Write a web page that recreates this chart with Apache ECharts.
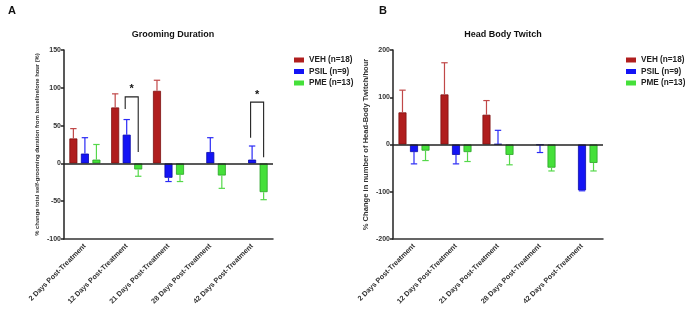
<!DOCTYPE html>
<html>
<head>
<meta charset="utf-8">
<script src="https://cdn.jsdelivr.net/npm/echarts@6/dist/echarts.min.js"></script>
<style>
  html, body { margin: 0; padding: 0; background: #fff; }
  #chart { width: 685px; height: 310px; }
</style>
</head>
<body>
<div id="chart"></div>
<script>
const categories = ['2 Days Post-Treatment', '12 Days Post-Treatment', '21 Days Post-Treatment', '28 Days Post-Treatment', '42 Days Post-Treatment']
const groups = ['VEH (n=18)', 'PSIL (n=9)', 'PME (n=13)']

// A - grooming duration (% change), mean and SEM
const groomVEH = [33, 74, 96, null, null]
const groomVEHErr = [13, 18, 14, null, null]
const groomPSIL = [13, 38, -19, 15, 5]
const groomPSILErr = [21, 20, 5, 19, 18]
const groomPME = [5, -8, -15, -16, -38]
const groomPMEErr = [20, 9, 9, 17, 10]

// B - head body twitch (% change)
const twitchVEH = [68, 106, 63, null, null]
const twitchVEHErr = [47, 67, 30, null, null]
const twitchPSIL = [-16, -22, 1, -1, -97]
const twitchPSILErr = [25, 19, 29, 16, 1]
const twitchPME = [-13, -16, -22, -49, -39]
const twitchPMEErr = [21, 20, 21, 7, 17]

// significance brackets in panel A (category, top, left leg end, right leg end)
const sigCats = [1, 4]
const sigTop = [88, 81]
const sigLeft = [72, 34]
const sigRight = [15, 8]

const groomTicks = { min: -100, max: 150, interval: 50 }
const twitchTicks = { min: -200, max: 200, interval: 100 }

const colors = ['#b01e1e', '#1414f5', '#45e03a']
const borders = ['#7d1212', '#0a0aa8', '#2aa226']
const errColors = ['#c04848', '#2a2af5', '#55d84a']

const barW = 8
const barGapRatio = 0.44
const offsets = [-1, 0, 1].map(k => k * barW * (1 + barGapRatio))

const font = 'Liberation Sans, Arial, sans-serif'

const chart = echarts.init(document.getElementById('chart'))

function barSeries(name, data, i, gi) {
    const s = {
        name: name,
        type: 'bar',
        xAxisIndex: gi,
        yAxisIndex: gi,
        data: data,
        barWidth: barW,
        barGap: (barGapRatio * 100) + '%',
        itemStyle: { color: colors[i], borderColor: borders[i], borderWidth: 0.8 },
        z: 2
    }
    if (i === 0) {
        s.markLine = {
            silent: true,
            symbol: 'none',
            label: { show: false },
            lineStyle: { color: '#222', width: 1.6, type: 'solid' },
            data: [{ yAxis: 0 }]
        }
    }
    return s
}

function errSeries(name, data, err, i, gi) {
    return {
        name: name,
        type: 'custom',
        xAxisIndex: gi,
        yAxisIndex: gi,
        data: data.map((v, k) => [k, v, err[k]]),
        encode: { x: 0, y: 1 },
        z: 3,
        silent: true,
        renderItem: function (params, api) {
            const v = api.value(1)
            const e = api.value(2)
            if (isNaN(v) || v === null) return
            const dir = v >= 0 ? 1 : -1
            const base = api.coord([api.value(0), v])
            const tip = api.coord([api.value(0), v + dir * e])
            const x = base[0] + offsets[i]
            const style = { stroke: errColors[i], lineWidth: 1.2 }
            return {
                type: 'group',
                children: [
                    { type: 'line', shape: { x1: x, y1: base[1], x2: x, y2: tip[1] }, style: style },
                    { type: 'line', shape: { x1: x - 3.2, y1: tip[1], x2: x + 3.2, y2: tip[1] }, style: style }
                ]
            }
        }
    }
}

const sigSeries = {
    type: 'custom',
    xAxisIndex: 0,
    yAxisIndex: 0,
    silent: true,
    data: sigCats.map((c, k) => [c, sigTop[k], sigLeft[k], sigRight[k]]),
    encode: { x: 0, y: 1 },
    z: 4,
    renderItem: function (params, api) {
        const c = api.value(0)
        const top = api.coord([c, api.value(1)])
        const l = api.coord([c, api.value(2)])
        const r = api.coord([c, api.value(3)])
        const xl = top[0] + offsets[1] - 1.5
        const xr = top[0] + offsets[2]
        return {
            type: 'group',
            children: [
                {
                    type: 'polyline',
                    shape: { points: [[xl, l[1]], [xl, top[1]], [xr, top[1]], [xr, r[1]]] },
                    style: { stroke: '#222', lineWidth: 1.1, fill: null }
                },
                {
                    type: 'text',
                    style: {
                        text: '*', x: (xl + xr) / 2, y: top[1] - 2,
                        align: 'center', verticalAlign: 'bottom',
                        font: 'bold 11px ' + font, fill: '#111'
                    }
                }
            ]
        }
    }
}

function xAxisOf(gi) {
    return {
        type: 'category',
        gridIndex: gi,
        data: categories,
        position: 'bottom',
        axisLine: { onZero: false, lineStyle: { color: '#333', width: 1.5 } },
        axisTick: { alignWithLabel: true, length: 3, lineStyle: { color: '#333', width: 1.5 } },
        axisLabel: {
            interval: 0, rotate: 45, margin: 6,
            fontFamily: font, fontWeight: 'bold', fontSize: 7.2, color: '#333'
        }
    }
}

function yAxisOf(gi, ticks, name, nameSize, gap) {
    return {
        type: 'value',
        gridIndex: gi,
        min: ticks.min,
        max: ticks.max,
        interval: ticks.interval,
        name: name,
        nameLocation: 'middle',
        nameGap: gap,
        nameTextStyle: { fontFamily: font, fontWeight: 'bold', fontSize: nameSize, color: '#333' },
        axisLine: { show: true, lineStyle: { color: '#222', width: 1.5 } },
        axisTick: { show: true, length: 3, lineStyle: { color: '#222', width: 1.5 } },
        axisLabel: { fontFamily: font, fontWeight: 'bold', fontSize: 7, color: '#333', margin: 3 },
        splitLine: { show: false }
    }
}

function legendOf(left) {
    return {
        data: groups,
        orient: 'vertical',
        left: left,
        top: 51,
        itemWidth: 10,
        itemHeight: 5,
        itemGap: 3.5,
        icon: 'rect',
        itemStyle: { borderWidth: 0 },
        textStyle: { fontFamily: font, fontWeight: 'bold', fontSize: 8.2, color: '#222', padding: [0, 0, 0, 0] }
    }
}

const options = {
    animation: false,
    color: colors,
    title: [
        { text: 'A', left: 3, top: 0, textStyle: { fontFamily: font, fontWeight: 'bold', fontSize: 11, color: '#111' } },
        { text: 'B', left: 374, top: 0, textStyle: { fontFamily: font, fontWeight: 'bold', fontSize: 11, color: '#111' } },
        { text: 'Grooming Duration', left: 168, top: 25, textAlign: 'center', textStyle: { fontFamily: font, fontWeight: 'bold', fontSize: 9, color: '#111' } },
        { text: 'Head Body Twitch', left: 498, top: 25, textAlign: 'center', textStyle: { fontFamily: font, fontWeight: 'bold', fontSize: 9, color: '#111' } }
    ],
    legend: [legendOf(289), legendOf(621)],
    grid: [
        { left: 64, top: 50, width: 209, height: 189 },
        { left: 393, top: 50, width: 210, height: 189 }
    ],
    xAxis: [xAxisOf(0), xAxisOf(1)],
    yAxis: [
        yAxisOf(0, groomTicks, '% change total self-grooming duration from baseline/one hour (%)', 5.8, 24),
        yAxisOf(1, twitchTicks, '% Change in number of Head-Body Twitch/hour', 7.6, 23)
    ],
    series: [
        barSeries(groups[0], groomVEH, 0, 0),
        barSeries(groups[1], groomPSIL, 1, 0),
        barSeries(groups[2], groomPME, 2, 0),
        errSeries(groups[0], groomVEH, groomVEHErr, 0, 0),
        errSeries(groups[1], groomPSIL, groomPSILErr, 1, 0),
        errSeries(groups[2], groomPME, groomPMEErr, 2, 0),
        barSeries(groups[0], twitchVEH, 0, 1),
        barSeries(groups[1], twitchPSIL, 1, 1),
        barSeries(groups[2], twitchPME, 2, 1),
        errSeries(groups[0], twitchVEH, twitchVEHErr, 0, 1),
        errSeries(groups[1], twitchPSIL, twitchPSILErr, 1, 1),
        errSeries(groups[2], twitchPME, twitchPMEErr, 2, 1),
        sigSeries
    ]
}

chart.setOption(options)
</script>
</body>
</html>
